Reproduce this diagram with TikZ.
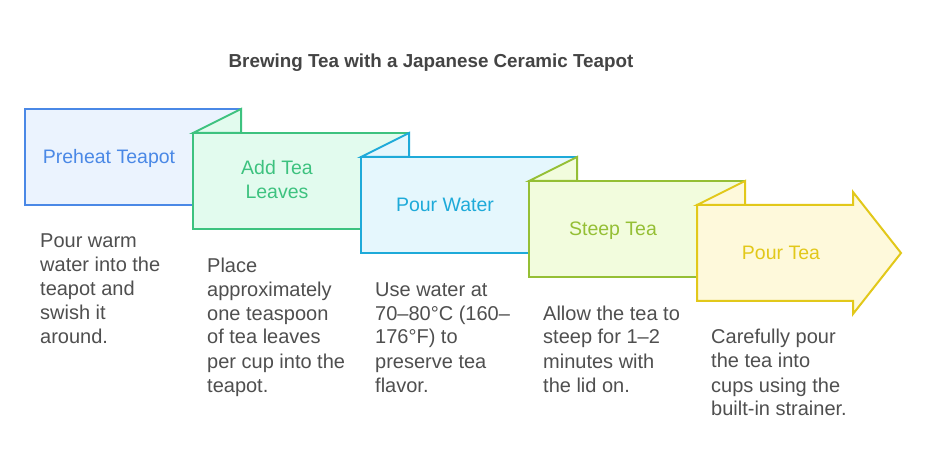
\documentclass[tikz,border=0pt]{standalone}
\usepackage{fontspec}
\setmainfont{Liberation Sans}
\definecolor{cBlueS}{HTML}{4A88E6}
\definecolor{cBlueF}{HTML}{EBF3FE}
\definecolor{cGreenS}{HTML}{3DC27F}
\definecolor{cGreenF}{HTML}{E2FBEE}
\definecolor{cCyanS}{HTML}{1EAAD9}
\definecolor{cCyanF}{HTML}{E5F7FD}
\definecolor{cLimeS}{HTML}{95BF35}
\definecolor{cLimeF}{HTML}{F2FCDD}
\definecolor{cYelS}{HTML}{E2C81A}
\definecolor{cYelF}{HTML}{FEF9DB}
\definecolor{cText}{HTML}{4F4F4F}
\definecolor{cTitle}{HTML}{444444}
\tikzset{
  shapeline/.style={line width=2pt, line join=miter},
  lbl/.style={align=center, inner sep=0pt, anchor=base, font=\fontsize{19.5}{24}\selectfont},
  desc/.style={align=left, inner sep=0pt, anchor=base west, text=cText, font=\fontsize{20}{24}\selectfont},
}
\begin{document}
\begin{tikzpicture}[x=1pt,y=-1pt]
\useasboundingbox[fill=white] (0,0) rectangle (927,470);

\node[font=\bfseries\fontsize{18.8}{22}\selectfont, text=cTitle, anchor=base, inner sep=0pt] (title) at (431,68) {Brewing Tea with a Japanese Ceramic Teapot};

% step 1
\draw[shapeline, draw=cBlueS, fill=cBlueF] (25,109) rectangle (241,205);
% step 2
\draw[shapeline, draw=cGreenS, fill=cGreenF] (193,133) rectangle (409,229);
\draw[shapeline, draw=cGreenS, fill=cGreenF] (193,133) -- (241,109) -- (241,133) -- cycle;
% step 3
\draw[shapeline, draw=cCyanS, fill=cCyanF] (361,157) rectangle (577,253);
\draw[shapeline, draw=cCyanS, fill=cCyanF] (361,157) -- (409,133) -- (409,157) -- cycle;
% step 4
\draw[shapeline, draw=cLimeS, fill=cLimeF] (529,181) rectangle (745,277);
\draw[shapeline, draw=cLimeS, fill=cLimeF] (529,181) -- (577,157) -- (577,181) -- cycle;
% step 5 (arrow)
\draw[shapeline, draw=cYelS, fill=cYelF] (697,205) -- (853,205) -- (853,192) -- (901,253) -- (853,314) -- (853,301) -- (697,301) -- cycle;
\draw[shapeline, draw=cYelS, fill=cYelF] (697,205) -- (745,181) -- (745,205) -- cycle;

% anchor = baseline of the last line
\node[lbl, text=cBlueS] (l1) at (109,164) {Preheat Teapot};
\node[lbl, text=cGreenS] (l2) at (277,199) {Add Tea\\Leaves};
\node[lbl, text=cCyanS] (l3) at (445,212) {Pour Water};
\node[lbl, text=cLimeS] (l4) at (613,236) {Steep Tea};
\node[lbl, text=cYelS] (l5) at (781,260) {Pour Tea};

\node[desc] (d1) at (40,344) {Pour warm\\water into the\\teapot and\\swish it\\around.};
\node[desc] (d2) at (207,392) {Place\\approximately\\one teaspoon\\of tea leaves\\per cup into the\\teapot.};
\node[desc] (d3) at (375,392) {Use water at\\70–80°C (160–\\176°F) to\\preserve tea\\flavor.};
\node[desc] (d4) at (543,392) {Allow the tea to\\steep for 1–2\\minutes with\\the lid on.};
\node[desc] (d5) at (711,416) {Carefully pour\\the tea into\\cups using the\\built-in strainer.};
\end{tikzpicture}
\end{document}
